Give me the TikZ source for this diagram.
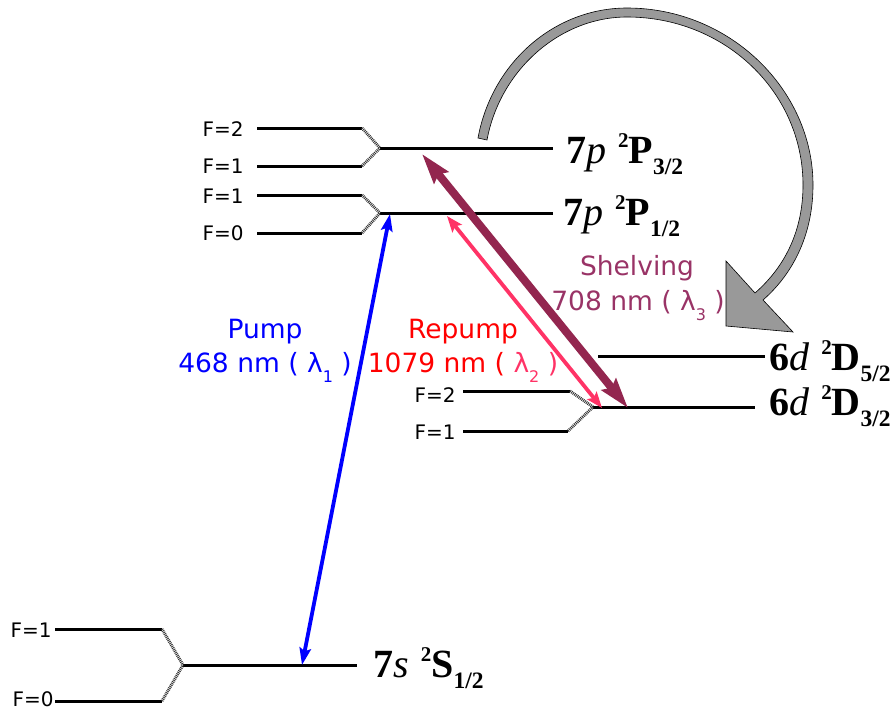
\documentclass[tikz,border=0pt]{standalone}
\usepackage{fontspec}
\setmainfont{Liberation Serif}
\newfontfamily\lblfont{DejaVu Sans}
\usetikzlibrary{arrows.meta}
\definecolor{pumpblue}{HTML}{0000FF}
\definecolor{repink}{HTML}{FF3366}
\definecolor{shelvedark}{HTML}{93264F}
\definecolor{shelvetext}{HTML}{993366}
\definecolor{decaygray}{HTML}{999999}
\newcommand{\termlabel}[4]{\textbf{#1}\textit{#2}\hspace{0.3em}\raisebox{0.4em}{\fontsize{21}{21}\selectfont\textbf{2}}\textbf{#3}\raisebox{-0.29em}{\fontsize{23.5}{23.5}\selectfont\textbf{#4}}}
\newcommand{\lamsub}[1]{\raisebox{-0.38em}{\fontsize{16}{16}\selectfont #1}}
\tikzset{
  x=1pt,y=-1pt,
  level/.style={line width=3pt,black,line cap=butt},
  hyper/.style={line width=3pt,black!80,dash pattern=on 0.9pt off 0.9pt},
  Flabel/.style={font=\lblfont\fontsize{20}{22}\selectfont,inner sep=0pt,anchor=center},
  term/.style={font=\fontsize{40}{42}\selectfont,inner sep=0pt,anchor=base west},
  tlabel/.style={font=\lblfont\fontsize{26.5}{28}\selectfont,inner sep=0pt,anchor=base},
  pumparrow/.style={line width=3.8pt,pumpblue,{Stealth[length=17pt,width=11.5pt,inset=3pt]}-{Stealth[length=17pt,width=11.5pt,inset=3pt]}},
  repumparrow/.style={line width=3.8pt,repink,{Stealth[length=16pt,width=12pt,inset=3pt]}-{Stealth[length=16pt,width=12pt,inset=3pt]}},
  shelvearrow/.style={line width=8pt,shelvedark,{Stealth[length=30pt,width=18pt,inset=4pt]}-{Stealth[length=30pt,width=18pt,inset=4pt]}},
}
\begin{document}
\begin{tikzpicture}
\useasboundingbox (0,0) rectangle (895,710);
% gray decay arrow
\fill[decaygray,draw=black,line width=0.6pt,line join=miter]
 (478,138) .. controls (492,62) and (555,8) .. (627,8)
 .. controls (730,8) and (813,90) .. (813,185)
 .. controls (813,232) and (795,272) .. (763,300)
 -- (793,332) -- (726,326) -- (726,261) -- (755,293)
 .. controls (787,265) and (803,228) .. (803,185)
 .. controls (803,92) and (725,17) .. (627,17)
 .. controls (560,17) and (500,70) .. (487,140) -- cycle;
% 7p 3/2
\coordinate (p3a) at (257,128); \coordinate (p3ae) at (362,128);
\coordinate (p3b) at (257,166); \coordinate (p3be) at (362,166);
\coordinate (p3) at (380,148); \coordinate (p3r) at (553,148);
% 7p 1/2
\coordinate (p1a) at (257,195); \coordinate (p1ae) at (362,195);
\coordinate (p1b) at (257,233); \coordinate (p1be) at (362,233);
\coordinate (p1) at (380,213); \coordinate (p1r) at (553,213);
% 6d
\coordinate (d5) at (598,356); \coordinate (d5r) at (765,356);
\coordinate (d3a) at (463,391); \coordinate (d3ae) at (570,391);
\coordinate (d3b) at (463,431); \coordinate (d3be) at (568,431);
\coordinate (d3) at (593,407); \coordinate (d3r) at (755,407);
% 7s
\coordinate (sa) at (55,629); \coordinate (sae) at (162,629);
\coordinate (sb) at (55,701); \coordinate (sbe) at (162,701);
\coordinate (s) at (183,665); \coordinate (sr) at (357,665);
\foreach \u/\v in {p3a/p3ae,p3b/p3be,p3/p3r,p1a/p1ae,p1b/p1be,p1/p1r,d5/d5r,d3a/d3ae,d3b/d3be,d3/d3r,sa/sae,sb/sbe,s/sr}
  \draw[level] (\u) -- (\v);
\foreach \u/\v in {p3ae/p3,p3be/p3,p1ae/p1,p1be/p1,d3ae/d3,d3be/d3,sae/s,sbe/s}
  \draw[hyper] (\u) -- (\v);
% transition end points
\coordinate (pumpT) at (390,214); \coordinate (pumpB) at (302,665);
\coordinate (repT) at (447,216); \coordinate (repB) at (602,408);
\coordinate (shT) at (422,154); \coordinate (shB) at (628,408);
\draw[pumparrow] (pumpT) -- (pumpB);
\draw[repumparrow] (repT) -- (repB);
\draw[shelvearrow] (shT) -- (shB);
% F labels
\node[Flabel] (f1) at (223,129) {F=2};
\node[Flabel] (f2) at (223,166) {F=1};
\node[Flabel] (f3) at (223,196) {F=1};
\node[Flabel] (f4) at (223,233) {F=0};
\node[Flabel] (f5) at (435,395) {F=2};
\node[Flabel] (f6) at (435,432) {F=1};
\node[Flabel] (f7) at (31,630) {F=1};
\node[Flabel] (f8) at (33,699) {F=0};
% term labels
\node[term] (t1) at (566,163) {\termlabel{7}{p}{P}{3/2}};
\node[term] (t2) at (563,225) {\termlabel{7}{p}{P}{1/2}};
\node[term] (t3) at (769,370) {\termlabel{6}{d}{D}{5/2}};
\node[term] (t4) at (769,415) {\termlabel{6}{d}{D}{3/2}};
\node[term] (t5) at (373,677) {\termlabel{7}{s}{S}{1/2}};
% transition labels
\node[tlabel,text=pumpblue] (l1) at (265,338) {Pump};
\node[tlabel,text=pumpblue] (l2) at (265,372) {468 nm ( λ\lamsub{1} )};
\node[tlabel,text=red] (l3) at (463,338) {Repump};
\node[tlabel,text=red] (l4) at (463,372) {1079 nm ( \textcolor{repink}{λ\lamsub{2} )}};
\node[tlabel,text=shelvetext] (l5) at (637,275) {Shelving};
\node[tlabel,text=shelvetext] (l6) at (638,310) {708 nm ( λ\lamsub{3} )};
\end{tikzpicture}
\end{document}
